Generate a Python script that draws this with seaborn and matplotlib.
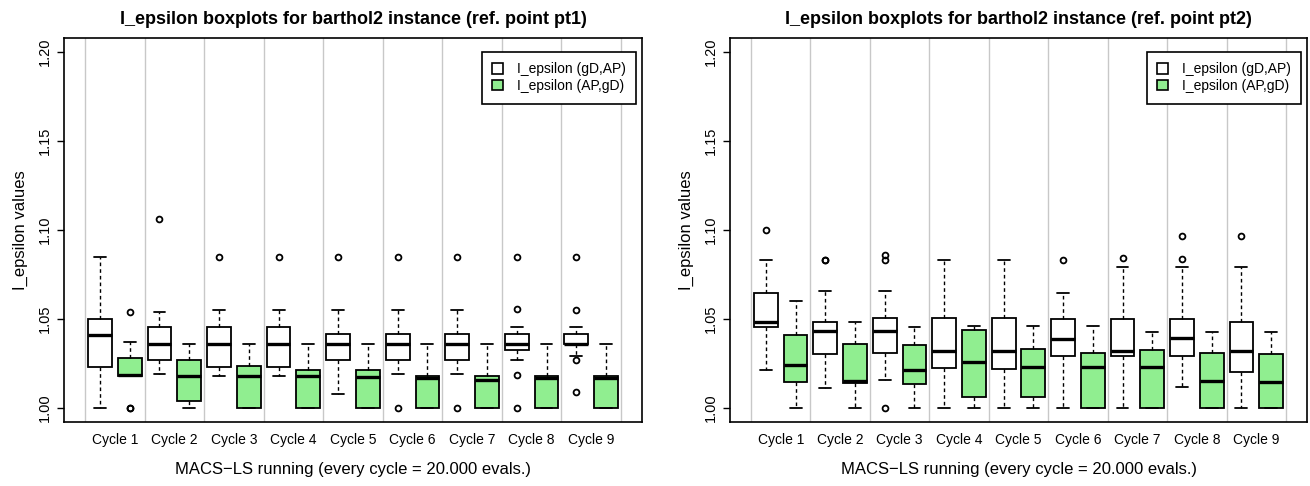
import numpy as np
import pandas as pd
import matplotlib
matplotlib.use("Agg")
import matplotlib.pyplot as plt
from matplotlib.patches import Patch
import seaborn as sns

# ---------------------------------------------------------------------------
# Data: I_epsilon values per MACS-LS cycle (13 runs per box)
# ---------------------------------------------------------------------------
cycles = ["Cycle 1", "Cycle 2", "Cycle 3", "Cycle 4", "Cycle 5",
          "Cycle 6", "Cycle 7", "Cycle 8", "Cycle 9"]
measures = ["I_epsilon (gD,AP)", "I_epsilon (AP,gD)"]

# reference point pt1, I_epsilon(gD,AP)
pt1_gd_ap = [
    [1.000, 1.000, 1.000, 1.023, 1.023, 1.041, 1.041, 1.041, 1.050, 1.050, 1.085, 1.085, 1.085],
    [1.019, 1.019, 1.019, 1.027, 1.027, 1.036, 1.036, 1.036, 1.0455, 1.0455, 1.054, 1.054, 1.106],
    [1.018, 1.018, 1.018, 1.023, 1.023, 1.036, 1.036, 1.036, 1.0455, 1.0455, 1.055, 1.055, 1.085],
    [1.018, 1.018, 1.018, 1.023, 1.023, 1.036, 1.036, 1.036, 1.0455, 1.0455, 1.055, 1.055, 1.085],
    [1.008, 1.008, 1.008, 1.027, 1.027, 1.036, 1.036, 1.036, 1.0415, 1.0415, 1.055, 1.055, 1.085],
    [1.000, 1.019, 1.019, 1.027, 1.027, 1.036, 1.036, 1.036, 1.0415, 1.0415, 1.055, 1.055, 1.085],
    [1.000, 1.019, 1.019, 1.027, 1.027, 1.036, 1.036, 1.036, 1.0415, 1.0415, 1.055, 1.055, 1.085],
    [1.000, 1.0185, 1.0266, 1.0327, 1.0327, 1.036, 1.036, 1.036, 1.0415, 1.0415, 1.0455, 1.0555, 1.085],
    [1.009, 1.0266, 1.0294, 1.036, 1.036, 1.036, 1.036, 1.036, 1.0415, 1.0415, 1.0455, 1.055, 1.085],
]
# reference point pt1, I_epsilon(AP,gD)
pt1_ap_gd = [
    [1.000, 1.000, 1.018, 1.018, 1.018, 1.018, 1.0185, 1.0185, 1.028, 1.028, 1.037, 1.037, 1.054],
    [1.000, 1.000, 1.000, 1.004, 1.004, 1.018, 1.018, 1.018, 1.027, 1.027, 1.036, 1.036, 1.036],
    [1.000, 1.000, 1.000, 1.000, 1.000, 1.018, 1.018, 1.018, 1.0236, 1.0236, 1.036, 1.036, 1.036],
    [1.000, 1.000, 1.000, 1.000, 1.000, 1.0176, 1.0176, 1.0176, 1.0213, 1.0213, 1.036, 1.036, 1.036],
    [1.000, 1.000, 1.000, 1.000, 1.000, 1.0174, 1.0174, 1.0174, 1.0212, 1.0212, 1.036, 1.036, 1.036],
    [1.000, 1.000, 1.000, 1.000, 1.000, 1.0165, 1.0165, 1.0165, 1.0181, 1.0181, 1.036, 1.036, 1.036],
    [1.000, 1.000, 1.000, 1.000, 1.000, 1.0157, 1.0157, 1.0157, 1.0176, 1.0176, 1.036, 1.036, 1.036],
    [1.000, 1.000, 1.000, 1.000, 1.000, 1.0165, 1.0165, 1.0165, 1.0176, 1.0176, 1.036, 1.036, 1.036],
    [1.000, 1.000, 1.000, 1.000, 1.000, 1.0165, 1.0165, 1.0165, 1.0176, 1.0176, 1.036, 1.036, 1.036],
]
# reference point pt2, I_epsilon(gD,AP)
pt2_gd_ap = [
    [1.021, 1.021, 1.021, 1.0453, 1.0453, 1.0483, 1.0483, 1.0483, 1.0644, 1.0644, 1.083, 1.083, 1.100],
    [1.011, 1.011, 1.011, 1.0305, 1.0305, 1.0431, 1.0431, 1.0431, 1.0483, 1.0483, 1.0657, 1.083, 1.083],
    [1.000, 1.0157, 1.0157, 1.031, 1.031, 1.0431, 1.0431, 1.0431, 1.0507, 1.0507, 1.0657, 1.0831, 1.0858],
    [1.000, 1.000, 1.000, 1.0225, 1.0225, 1.0318, 1.0318, 1.0318, 1.0507, 1.0507, 1.0831, 1.0831, 1.0831],
    [1.000, 1.000, 1.000, 1.0219, 1.0219, 1.0318, 1.0318, 1.0318, 1.0504, 1.0504, 1.0831, 1.0831, 1.0831],
    [1.000, 1.000, 1.000, 1.029, 1.029, 1.0386, 1.0386, 1.0386, 1.0502, 1.0502, 1.0644, 1.0644, 1.0833],
    [1.000, 1.000, 1.000, 1.029, 1.029, 1.0318, 1.0318, 1.0318, 1.0500, 1.0500, 1.0794, 1.0794, 1.0840],
    [1.0118, 1.0118, 1.0118, 1.029, 1.029, 1.0391, 1.0391, 1.0391, 1.0500, 1.0500, 1.0794, 1.0835, 1.0968],
    [1.000, 1.000, 1.000, 1.0199, 1.0199, 1.0318, 1.0318, 1.0318, 1.0483, 1.0483, 1.0794, 1.0794, 1.0968],
]
# reference point pt2, I_epsilon(AP,gD)
pt2_ap_gd = [
    [1.000, 1.000, 1.000, 1.0146, 1.0146, 1.0242, 1.0242, 1.0242, 1.0410, 1.0410, 1.0603, 1.0603, 1.0603],
    [1.000, 1.000, 1.000, 1.0142, 1.0142, 1.0148, 1.0148, 1.0148, 1.0361, 1.0361, 1.0481, 1.0481, 1.0481],
    [1.000, 1.000, 1.000, 1.0131, 1.0131, 1.0213, 1.0213, 1.0213, 1.0354, 1.0354, 1.0455, 1.0455, 1.0455],
    [1.000, 1.000, 1.000, 1.0058, 1.0058, 1.0258, 1.0258, 1.0258, 1.0440, 1.0440, 1.0461, 1.0461, 1.0461],
    [1.000, 1.000, 1.000, 1.0058, 1.0058, 1.0227, 1.0227, 1.0227, 1.0328, 1.0328, 1.0459, 1.0459, 1.0459],
    [1.000, 1.000, 1.000, 1.000, 1.000, 1.0227, 1.0227, 1.0227, 1.0307, 1.0307, 1.0459, 1.0459, 1.0459],
    [1.000, 1.000, 1.000, 1.000, 1.000, 1.0227, 1.0227, 1.0227, 1.0325, 1.0325, 1.0429, 1.0429, 1.0429],
    [1.000, 1.000, 1.000, 1.000, 1.000, 1.0152, 1.0152, 1.0152, 1.0307, 1.0307, 1.0429, 1.0429, 1.0429],
    [1.000, 1.000, 1.000, 1.000, 1.000, 1.0146, 1.0146, 1.0146, 1.0301, 1.0301, 1.0429, 1.0429, 1.0429],
]

y_ticks = [1.00, 1.05, 1.10, 1.15, 1.20]
titles = ["I_epsilon boxplots for barthol2 instance (ref. point pt1)",
          "I_epsilon boxplots for barthol2 instance (ref. point pt2)"]
x_label = "MACS\u2212LS running (every cycle = 20.000 evals.)"
y_label = "I_epsilon values"
box_colors = {measures[0]: "white", measures[1]: "#90EE90"}


def to_long(gd_ap, ap_gd):
    rows = []
    for measure, series in zip(measures, (gd_ap, ap_gd)):
        for cyc, values in zip(cycles, series):
            for v in values:
                rows.append({"cycle": cyc, "measure": measure, "value": v})
    return pd.DataFrame(rows)


sns.set_style("white")
plt.rcParams["font.family"] = ["Liberation Sans", "DejaVu Sans"]
for key in ("text.color", "axes.labelcolor", "xtick.color", "ytick.color"):
    plt.rcParams[key] = "black"

fig = plt.figure(figsize=(13.10, 4.86), dpi=100)
ax_left = fig.add_axes([64 / 1310, 64 / 486, 578 / 1310, 384 / 486])
ax_right = fig.add_axes([730 / 1310, 64 / 486, 577 / 1310, 384 / 486])

panels = [(ax_left, pt1_gd_ap, pt1_ap_gd, titles[0]),
          (ax_right, pt2_gd_ap, pt2_ap_gd, titles[1])]

for ax, gd_ap, ap_gd, title in panels:
    df = to_long(gd_ap, ap_gd)
    sns.boxplot(
        data=df, x="cycle", y="value", hue="measure",
        order=cycles, hue_order=measures, palette=box_colors,
        saturation=1, width=1.0, gap=0.2, linecolor="black", linewidth=1.3,
        whis=1.5, legend=False, ax=ax,
        boxprops=dict(edgecolor="black", linewidth=1.3),
        medianprops=dict(color="black", linewidth=2.4),
        whiskerprops=dict(color="black", linewidth=1.0, linestyle=(0, (2.6, 2.2))),
        capprops=dict(color="black", linewidth=1.3),
        flierprops=dict(marker="o", markerfacecolor="none",
                        markeredgecolor="black", markersize=4.2,
                        markeredgewidth=1.3),
    )

    # vertical separators between cycles
    ax.set_xticks(np.arange(-0.5, len(cycles), 1.0), minor=True)
    ax.grid(False, which="major")
    ax.grid(True, which="minor", axis="x", color="#c8c8c8", linewidth=1.0)
    ax.set_axisbelow(True)

    ax.set_xlim(-0.853, len(cycles) - 1 + 0.853)
    ax.set_ylim(0.992, 1.208)

    ax.set_xticks(range(len(cycles)))
    ax.set_xticklabels(cycles, fontsize=10)
    ax.set_yticks(y_ticks)
    ax.set_yticklabels([f"{t:.2f}" for t in y_ticks], fontsize=10.5,
                       rotation=90, va="center")
    ax.tick_params(axis="x", which="both", length=0, pad=8)
    ax.tick_params(axis="y", which="major", direction="out", length=5,
                   width=1.0, color="black", left=True, pad=4)

    for sp in ax.spines.values():
        sp.set_visible(True)
        sp.set_color("black")
        sp.set_linewidth(1.2)

    ax.set_title(title, fontsize=13, fontweight="bold", pad=10)
    ax.set_xlabel(x_label, fontsize=12, labelpad=11)
    ax.set_ylabel(y_label, fontsize=12, labelpad=7)

    handles = [Patch(facecolor=box_colors[m], edgecolor="black", linewidth=1.2)
               for m in measures]
    leg = ax.legend(handles, measures, loc="upper right",
                    bbox_to_anchor=(1 - 6 / 578, 1 - 14 / 384),
                    borderaxespad=0, fontsize=10, frameon=True,
                    fancybox=False, edgecolor="black", framealpha=1,
                    handlelength=0.75, handleheight=0.75,
                    handletextpad=1.0, labelspacing=0.2, borderpad=0.75)
    leg.get_frame().set_linewidth(1.2)

fig.savefig("out.png", dpi=100)
